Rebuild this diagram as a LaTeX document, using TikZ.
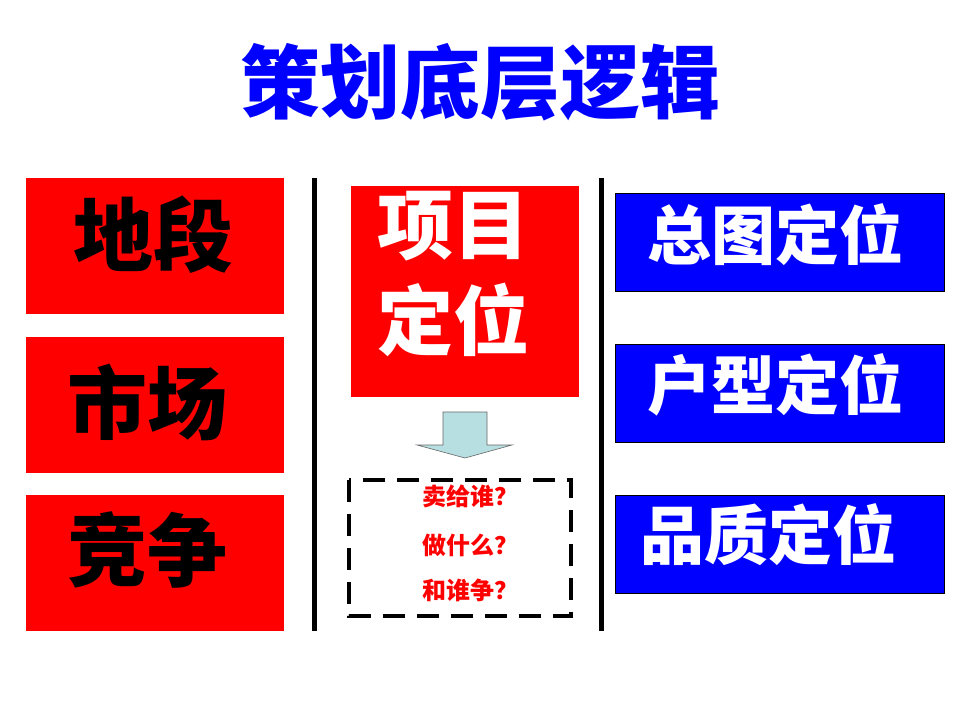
\documentclass[tikz,border=0pt]{standalone}
\usepackage{fontspec}
\newfontfamily\cjk{Noto Sans CJK SC}
\definecolor{arrowfill}{RGB}{183,222,224}
\begin{document}
\begin{tikzpicture}[x=1pt,y=-1pt,
  redbox/.style={fill=red,draw=none},
  bluebox/.style={fill=blue,draw=black,line width=0.8pt},
  sep/.style={line width=5pt,black},
  big/.style={font=\cjk\bfseries\fontsize{80}{80}\selectfont,inner sep=0pt},
  proj/.style={font=\cjk\bfseries\fontsize{76}{76}\selectfont,inner sep=0pt,text=white},
  mid/.style={font=\cjk\bfseries\fontsize{64}{64}\selectfont,inner sep=0pt,text=white},
  small/.style={font=\cjk\bfseries\fontsize{24}{24}\selectfont,inner sep=0pt,text=red}]
\useasboundingbox (0,0) rectangle (960,720);
% title
\node[big,text=blue] (title) at (480,82) {策划底层逻辑};
% left boxes
\fill[redbox] (26,178) rectangle (284,314);
\fill[redbox] (26,337) rectangle (284,473);
\fill[redbox] (26,495) rectangle (284,631);
\node[big,text=black] (t1) at (153,235) {地段};
\node[big,text=black] (t2) at (147,402) {市场};
\node[big,text=black] (t3) at (147,550) {竞争};
% separators
\coordinate (s1a) at (314,178); \coordinate (s1b) at (314,631);
\coordinate (s2a) at (601,178); \coordinate (s2b) at (601,631);
\draw[sep] (s1a) -- (s1b);
\draw[sep] (s2a) -- (s2b);
% center
\fill[redbox] (351,186) rectangle (579,397);
\node[proj] (p1) at (453,226) {项目};
\node[proj] (p2) at (453,320) {定位};
\draw[draw=gray!80!black,fill=arrowfill,line width=0.6pt]
  (443,412) -- (487,412) -- (487,445) -- (512,445) -- (465,458) -- (417,445) -- (443,445) -- cycle;
\draw[line width=4.5pt,dash pattern=on 22pt off 12pt] (349,480) rectangle (571,616);
\node[small] (q1) at (470,496) {卖给谁？};
\node[small] (q2) at (470,545) {做什么？};
\node[small] (q3) at (470,590) {和谁争？};
% right boxes
\draw[bluebox] (615,193) rectangle (944,291);
\draw[bluebox] (615,344) rectangle (944,442);
\draw[bluebox] (615,495) rectangle (944,593);
\node[mid] (r1) at (775,235) {总图定位};
\node[mid] (r2) at (775,385) {户型定位};
\node[mid] (r3) at (768,535) {品质定位};
\end{tikzpicture}
\end{document}
